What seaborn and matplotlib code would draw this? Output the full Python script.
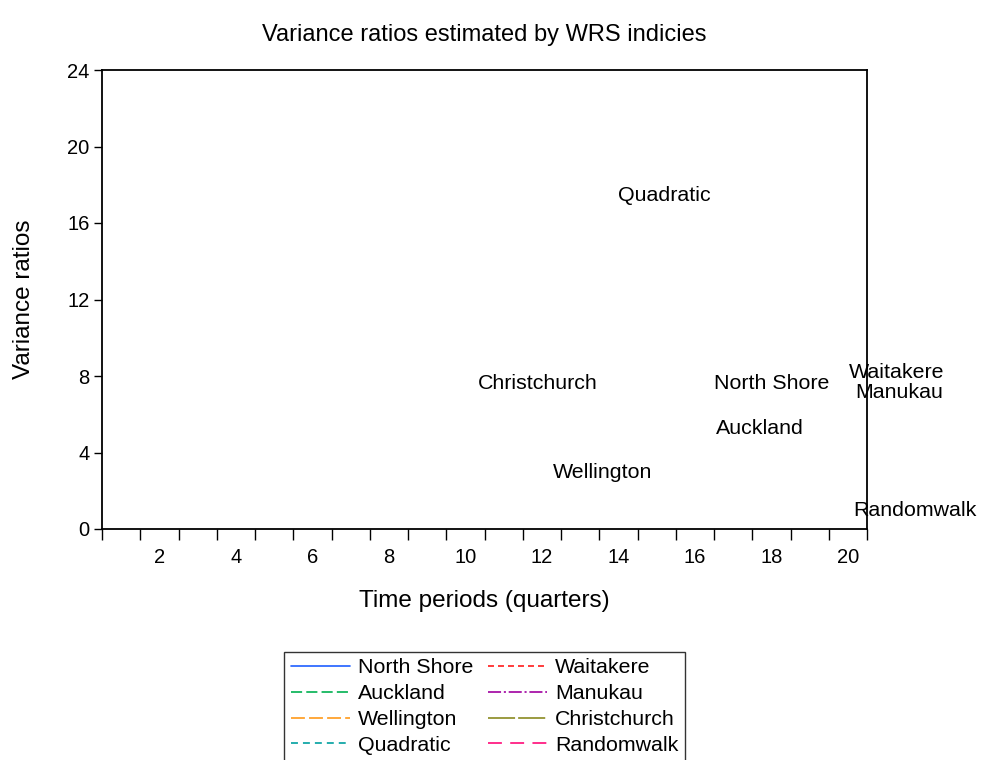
import matplotlib
matplotlib.use("Agg")
import matplotlib.pyplot as plt
from matplotlib.lines import Line2D
import seaborn as sns
import numpy as np

# ---- data -------------------------------------------------------------
series = ["North Shore", "Waitakere", "Auckland", "Manukau",
          "Wellington", "Christchurch", "Quadratic", "Randomwalk"]
# label anchor positions (period, variance ratio) as printed on the chart
label_x = [16.5, 20.03, 16.55, 20.19, 12.29, 10.33, 13.99, 20.13]
label_y = [7.63, 8.16, 5.23, 7.15, 2.95, 7.63, 17.46, 0.99]
x_ticks = [2, 4, 6, 8, 10, 12, 14, 16, 18, 20]
y_ticks = [0, 4, 8, 12, 16, 20, 24]
n_periods = 20

# ---- styles -----------------------------------------------------------
colors = ["#1f5fff", "#ff1a1a", "#00b050", "#a000a0",
          "#ff9a1a", "#8a8a20", "#00a0a0", "#ff0a78"]
dashes = [None, (4.3, 2.9), (8, 3), (9.4, 2, 1.5, 2),
          (10, 3), (19.5, 2.2), (5, 3.6), (10, 6)]

sns.set_theme(style="white")
plt.rcParams["font.family"] = ["Liberation Sans", "DejaVu Sans"]
plt.rcParams["lines.scale_dashes"] = False
plt.rcParams["text.color"] = "black"
plt.rcParams["xtick.color"] = "black"
plt.rcParams["ytick.color"] = "black"
plt.rcParams["xtick.labelcolor"] = "black"
plt.rcParams["ytick.labelcolor"] = "black"

fig = plt.figure(figsize=(9.81, 7.6), dpi=100)
ax = fig.add_axes([102 / 981, 1 - 529 / 760, 765 / 981, 459 / 760])

ax.set_xlim(0.5, n_periods + 0.5)
ax.set_ylim(0, 24)

for s in ax.spines.values():
    s.set_color("black")
    s.set_linewidth(1.3)
    s.set_visible(True)

ax.set_yticks(y_ticks)
ax.set_yticklabels([str(v) for v in y_ticks])
ax.tick_params(axis="y", direction="out", length=6, width=1, colors="black",
               labelsize=14.5, pad=3, left=True)
ax.set_xticks(x_ticks)
ax.set_xticklabels([str(v) for v in x_ticks])
ax.set_xticks(np.arange(0.5, n_periods + 1, 1.0), minor=True)
ax.tick_params(axis="x", which="major", length=0, labelsize=14.5, pad=14,
               colors="black")
ax.tick_params(axis="x", which="minor", direction="out", length=8, width=1,
               color="black", bottom=True)

ax.set_title("Variance ratios estimated by WRS indicies", fontsize=17,
             pad=21, color="black")
ax.set_xlabel("Time periods (quarters)", fontsize=17.5, color="black")
ax.xaxis.set_label_coords(0.5, -0.132)
ax.set_ylabel("Variance ratios", fontsize=17.5, color="black")
ax.yaxis.set_label_coords(-0.087, 0.5)

for name, lx, ly in zip(series, label_x, label_y):
    ax.text(lx, ly, name, ha="left", va="center", fontsize=15.4,
            color="black", clip_on=False)

handles = {}
for name, c, d in zip(series, colors, dashes):
    if d is None:
        h = Line2D([], [], color=c, lw=1.2, linestyle="-")
    else:
        h = Line2D([], [], color=c, lw=1.2, dashes=d)
    handles[name] = h

# legend filled row by row (two columns): reorder for matplotlib's column fill
order = series[0::2] + series[1::2]
leg = fig.legend(handles=[handles[n] for n in order], labels=order, ncol=2,
                 loc="upper center", bbox_to_anchor=(484.5 / 981, 1 - 652 / 760),
                 fontsize=15.4, frameon=True, fancybox=False, shadow=False,
                 handlelength=2.77, handletextpad=0.38, columnspacing=0.66,
                 labelspacing=0.32, borderpad=0.3, borderaxespad=0)
leg.get_frame().set_edgecolor("black")
leg.get_frame().set_linewidth(1.0)

fig.savefig("out.png", dpi=100, facecolor="white")
